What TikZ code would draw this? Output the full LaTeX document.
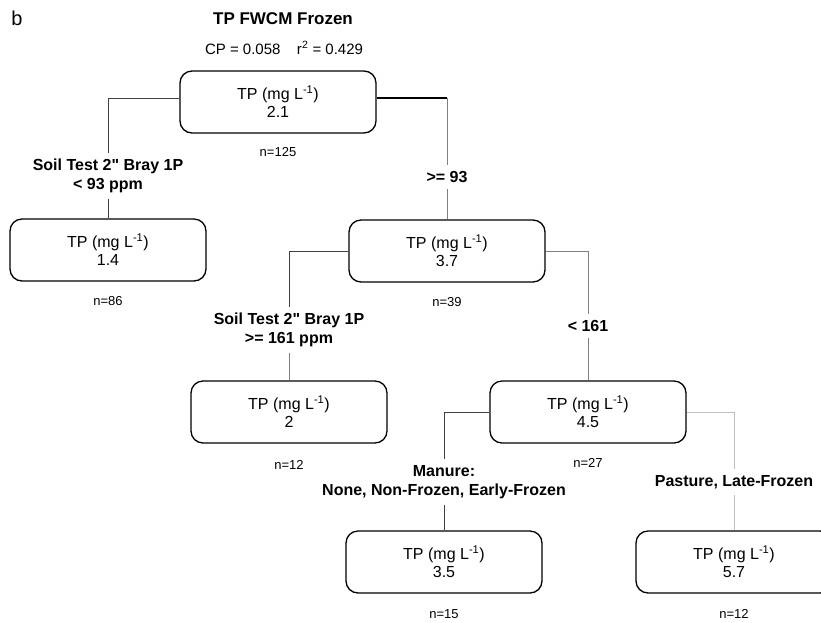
\documentclass[tikz,border=0pt]{standalone}
\usepackage{fontspec}
\setmainfont{Liberation Sans}
\usetikzlibrary{positioning}

\begin{document}
\begin{tikzpicture}[
    x=1pt, y=-1pt,
    tpbox/.style={
        rectangle,
        rounded corners=12pt,
        draw=black,
        line width=1.3pt,
        minimum width=196pt,
        minimum height=62pt,
        align=center,
        font=\fontsize{16}{18}\selectfont
    },
    split/.style={align=center, inner sep=6pt, font=\fontsize{16}{19.5}\selectfont\bfseries},
    count/.style={inner sep=0pt, font=\fontsize{13}{15}\selectfont},
    link/.style={draw=black!75, line width=0.8pt},
    greylink/.style={draw=black!50, line width=0.8pt},
    paleline/.style={draw=black!25, line width=0.8pt}
]
    \clip (0,0) rectangle (821,622);

    % Heading
    \node[font=\fontsize{20}{22}\selectfont] (panel) at (17,18) {b};
    \node[font=\fontsize{17}{19}\selectfont\bfseries] (title) at (283,19) {TP FWCM Frozen};
    \node[font=\fontsize{15}{17}\selectfont] (stats) at (284,48) {CP = 0.058\hspace{1.1em}r\textsuperscript{2} = 0.429};

    % Boxes
    \node[tpbox] (root) at (278,102) {TP (mg L\textsuperscript{-1})\\2.1};
    \node[tpbox] (lo) at (108,250) {TP (mg L\textsuperscript{-1})\\1.4};
    \node[tpbox] (hi) at (447,251) {TP (mg L\textsuperscript{-1})\\3.7};
    \node[tpbox] (hihi) at (289,412) {TP (mg L\textsuperscript{-1})\\2};
    \node[tpbox] (hilo) at (588,412) {TP (mg L\textsuperscript{-1})\\4.5};
    \node[tpbox] (manure) at (444,562) {TP (mg L\textsuperscript{-1})\\3.5};
    \node[tpbox] (pasture) at (734,562) {TP (mg L\textsuperscript{-1})\\5.7};

    % Counts
    \node[count, below=14pt of root] (nroot) {n=125};
    \node[count, below=15pt of lo] (nlo) {n=86};
    \node[count, below=15pt of hi] (nhi) {n=39};
    \node[count, below=17pt of hihi] (nhihi) {n=12};
    \node[count, below=15pt of hilo] (nhilo) {n=27};
    \node[count, below=16pt of manure] (nmanure) {n=15};
    \node[count, below=16pt of pasture] (npasture) {n=12};

    % Splits
    \node[split] (s1) at (108,176) {Soil Test 2\textquotedbl{} Bray 1P\\< 93 ppm};
    \node[split] (s2) at (447,177) {>= 93};
    \node[split] (s3) at (289,330) {Soil Test 2\textquotedbl{} Bray 1P\\>= 161 ppm};
    \node[split] (s4) at (588,326) {< 161};
    \node[split] (s5) at (444,482) {Manure:\\None, Non-Frozen, Early-Frozen};
    \node[split] (s6) at (734,482) {Pasture, Late-Frozen};

    % Branches
    \coordinate (rootL) at ([yshift=4pt]root.west);
    \coordinate (rootR) at ([yshift=4pt]root.east);
    \coordinate (bend) at (s2 |- rootR);
    \draw[link] (rootL) -| (s1.north);
    \draw[link] (s1.south) -- (lo.north);
    \draw[line width=1.5pt] (rootR) -- (bend);
    \draw[greylink] (bend) -- (s2.north);
    \draw[greylink] (s2.south) -- (hi.north);
    \draw[link] (hi.west) -| (s3.north);
    \draw[greylink] (s3.south) -- (hihi.north);
    \draw[greylink] (hi.east) -| (s4.north);
    \draw[greylink] (s4.south) -- (hilo.north);
    \draw[link] (hilo.west) -| (s5.north);
    \draw[link] (s5.south) -- (manure.north);
    \draw[paleline] (hilo.east) -| (s6.north);
    \draw[paleline] (s6.south) -- (pasture.north);
\end{tikzpicture}
\end{document}
